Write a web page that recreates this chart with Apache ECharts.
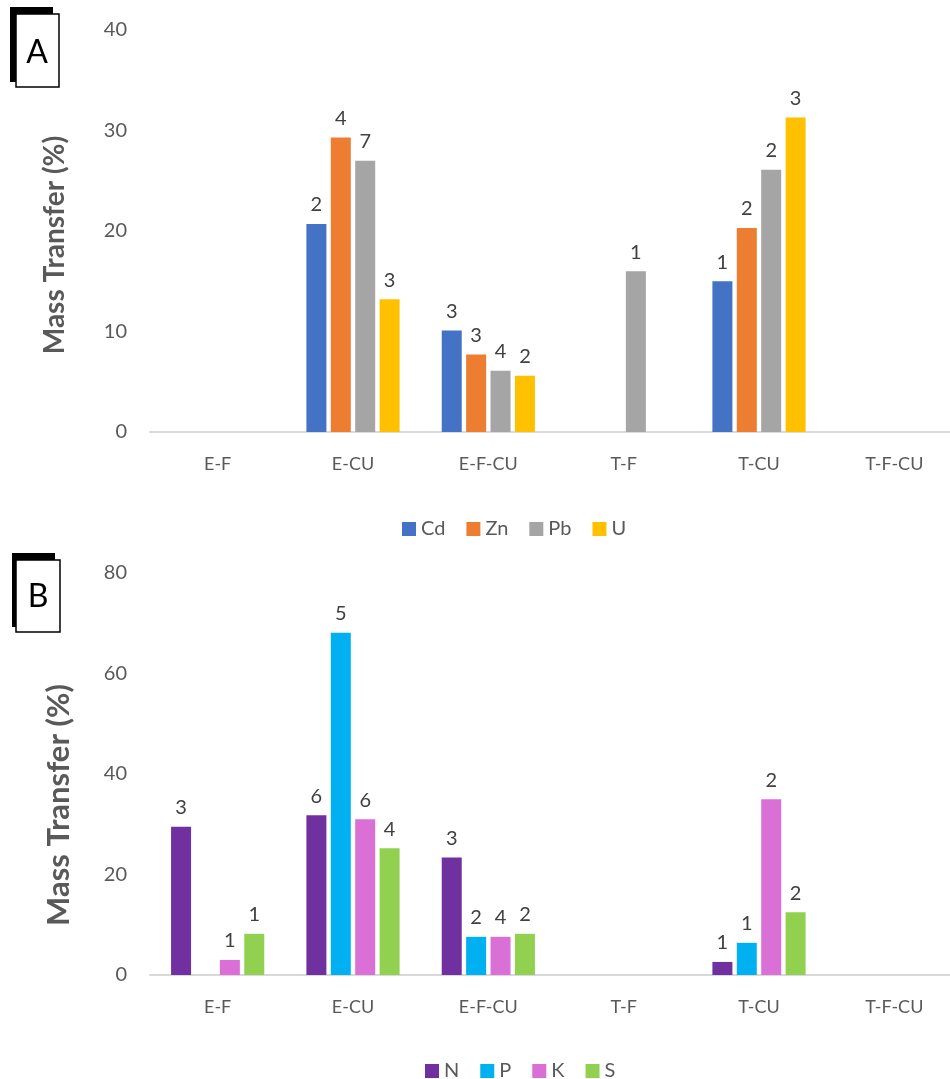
<!DOCTYPE html>
<html>
<head>
<meta charset="utf-8">
<script src="https://cdn.jsdelivr.net/npm/echarts@6/dist/echarts.min.js"></script>
<style>
html,body{margin:0;padding:0;background:#fff;}
#chart{width:950px;height:1079px;}
</style>
</head>
<body>
<div id="chart"></div>
<script>
// ---- data ----
const categories = ['E-F', 'E-CU', 'E-F-CU', 'T-F', 'T-CU', 'T-F-CU'];

const metalNames = ['Cd', 'Zn', 'Pb', 'U'];
const cdValues = [null, 20.7, 10.1, null, 15.0, null];
const znValues = [null, 29.3, 7.7, null, 20.3, null];
const pbValues = [null, 27.0, 6.1, 16.0, 26.1, null];
const uValues  = [null, 13.2, 5.6, null, 31.3, null];
const cdLabels = ['', '2', '3', '', '1', ''];
const znLabels = ['', '4', '3', '', '2', ''];
const pbLabels = ['', '7', '4', '1', '2', ''];
const uLabels  = ['', '3', '2', '', '3', ''];

const nutrientNames = ['N', 'P', 'K', 'S'];
const nValues = [29.5, 31.8, 23.4, null, 2.6, null];
const pValues = [null, 68.1, 7.6, null, 6.4, null];
const kValues = [3.0, 31.0, 7.6, null, 35.0, null];
const sValues = [8.2, 25.2, 8.2, null, 12.5, null];
const nLabels = ['3', '6', '3', '', '1', ''];
const pLabels = ['', '5', '2', '', '1', ''];
const kLabels = ['1', '6', '4', '', '2', ''];
const sLabels = ['1', '4', '2', '', '2', ''];

const yTicksA = [0, 10, 20, 30, 40];
const yTicksB = [0, 20, 40, 60, 80];

// ---- styling ----
const FONT = 'Lato, "Open Sans", sans-serif';
const TXT = '#595959';
const colorsA = ['#4472C4', '#ED7D31', '#A5A5A5', '#FFC000'];
const colorsB = ['#7030A0', '#00B0F0', '#DA70D6', '#92D050'];

function makeSeries(name, values, labels, color, axisIdx) {
  return {
    name: name, type: 'bar',
    xAxisIndex: axisIdx, yAxisIndex: axisIdx,
    data: values,
    barWidth: 20, barGap: '22%',
    itemStyle: { color: color },
    label: {
      show: true, position: 'top', distance: 9,
      color: '#404040', fontSize: 20, fontFamily: FONT,
      formatter: p => labels[p.dataIndex]
    },
    emphasis: { disabled: true }
  };
}

const chart = echarts.init(document.getElementById('chart'), null, { renderer: 'canvas' });

const xAxisCommon = {
  type: 'category', data: categories,
  axisLine: { lineStyle: { color: '#D9D9D9', width: 2 } },
  axisTick: { show: false },
  axisLabel: { color: TXT, fontSize: 18, fontFamily: FONT, margin: 23 }
};
function yAxisCommon(ticks) {
  return {
    type: 'value', min: ticks[0], max: ticks[ticks.length - 1],
    interval: ticks[1] - ticks[0],
    splitLine: { show: false },
    axisLine: { show: false }, axisTick: { show: false },
    axisLabel: { color: TXT, fontSize: 20, fontFamily: FONT, margin: 23 }
  };
}
const legendText = { color: TXT, fontSize: 20, fontFamily: FONT };

const option = {
  backgroundColor: '#fff',
  animation: false,
  grid: [
    { left: 150, top: 30, width: 812, height: 402, containLabel: false, outerBoundsMode: 'none' },
    { left: 150, top: 573, width: 812, height: 402, containLabel: false, outerBoundsMode: 'none' }
  ],
  xAxis: [
    Object.assign({ gridIndex: 0 }, xAxisCommon),
    Object.assign({ gridIndex: 1 }, xAxisCommon)
  ],
  yAxis: [
    Object.assign({ gridIndex: 0 }, yAxisCommon(yTicksA)),
    Object.assign({ gridIndex: 1 }, yAxisCommon(yTicksB))
  ],
  legend: [
    {
      data: metalNames, top: 514, left: 397,
      itemWidth: 14, itemHeight: 14, itemGap: 21,
      icon: 'rect', textStyle: legendText
    },
    {
      data: nutrientNames, top: 1056, left: 420,
      itemWidth: 14, itemHeight: 14, itemGap: 21,
      icon: 'rect', textStyle: legendText
    }
  ],
  graphic: [
    { type: 'text', x: 55, y: 245, rotation: Math.PI / 2,
      style: { text: 'Mass Transfer (%)', fill: TXT, font: 'bold 28px ' + FONT, textAlign: 'center', textVerticalAlign: 'middle' } },
    { type: 'text', x: 59, y: 805, rotation: Math.PI / 2,
      style: { text: 'Mass Transfer (%)', fill: TXT, font: 'bold 31px ' + FONT, textAlign: 'center', textVerticalAlign: 'middle' } },
    // panel tag A
    { type: 'rect', shape: { x: 10, y: 7, width: 43, height: 75 }, style: { fill: '#000' } },
    { type: 'rect', shape: { x: 16, y: 14, width: 43, height: 73 }, style: { fill: '#fff', stroke: '#000', lineWidth: 1.5 } },
    { type: 'text', x: 37, y: 53, style: { text: 'A', fill: '#000', font: '32px ' + FONT, textAlign: 'center', textVerticalAlign: 'middle' } },
    // panel tag B
    { type: 'rect', shape: { x: 12, y: 553, width: 43, height: 74 }, style: { fill: '#000' } },
    { type: 'rect', shape: { x: 16, y: 560, width: 44, height: 72 }, style: { fill: '#fff', stroke: '#000', lineWidth: 1.5 } },
    { type: 'text', x: 38, y: 597, style: { text: 'B', fill: '#000', font: '32px ' + FONT, textAlign: 'center', textVerticalAlign: 'middle' } }
  ],
  series: [
    makeSeries('Cd', cdValues, cdLabels, colorsA[0], 0),
    makeSeries('Zn', znValues, znLabels, colorsA[1], 0),
    makeSeries('Pb', pbValues, pbLabels, colorsA[2], 0),
    makeSeries('U', uValues, uLabels, colorsA[3], 0),
    makeSeries('N', nValues, nLabels, colorsB[0], 1),
    makeSeries('P', pValues, pLabels, colorsB[1], 1),
    makeSeries('K', kValues, kLabels, colorsB[2], 1),
    makeSeries('S', sValues, sLabels, colorsB[3], 1)
  ]
};
chart.setOption(option);
</script>
</body>
</html>
